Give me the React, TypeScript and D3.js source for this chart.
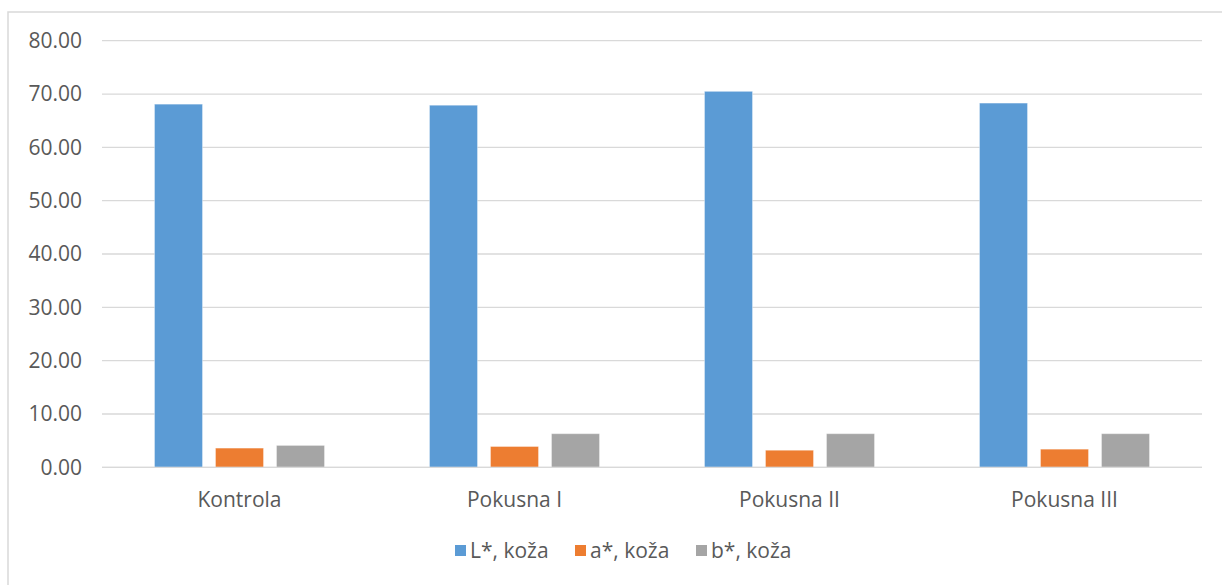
import React from "react";
import * as d3 from "d3";

const categories = ["Kontrola", "Pokusna I", "Pokusna II", "Pokusna III"];
const seriesNames = ["L*, koža", "a*, koža", "b*, koža"];
const seriesL = [68.1, 67.9, 70.5, 68.3];
const seriesA = [3.6, 3.9, 3.2, 3.4];
const seriesB = [4.1, 6.3, 6.3, 6.3];
const yTicks = [0, 10, 20, 30, 40, 50, 60, 70, 80];
const colors = ["#5B9BD5", "#ED7D31", "#A5A5A5"];

const W = 1222;
const H = 585;
const FONT = "'Open Sans', 'Noto Sans', sans-serif";

export default function App() {
  const series = [seriesL, seriesA, seriesB];
  const x = d3.scaleBand().domain(categories).range([102, 1202]).paddingInner(0).paddingOuter(0);
  const y = d3.scaleLinear().domain([0, 80]).range([467.3, 40.7]);
  const barW = 48;
  const gap = 13;
  const groupW = barW * 3 + gap * 2;
  const inner = d3
    .scaleBand()
    .domain(seriesNames)
    .range([0, groupW])
    .paddingInner(gap / (barW + gap))
    .paddingOuter(0);

  const legendItems = [
    { name: seriesNames[0], x: 455 },
    { name: seriesNames[1], x: 575 },
    { name: seriesNames[2], x: 696 },
  ];

  return (
    <svg
      width={W}
      height={H}
      style={{ position: "absolute", left: 0, top: 0, background: "#fff" }}
      fontFamily={FONT}
    >
      <rect x={8} y={12} width={1300} height={700} fill="#fff" stroke="#D9D9D9" strokeWidth={1.5} />
      {yTicks.map((t) => (
        <g key={t}>
          <line x1={102} x2={1202} y1={y(t)} y2={y(t)} stroke="#D9D9D9" strokeWidth={1.3} />
          <text x={82} y={y(t)} dy="0.35em" textAnchor="end" fontSize={21} fill="#595959">
            {d3.format(".2f")(t)}
          </text>
        </g>
      ))}
      {categories.map((c, i) => {
        const gx = (x(c) as number) + x.bandwidth() / 2 - groupW / 2;
        return (
          <g key={c}>
            {series.map((s, j) => (
              <rect
                key={j}
                x={gx + (inner(seriesNames[j]) as number)}
                y={y(s[i])}
                width={inner.bandwidth()}
                height={y(0) - y(s[i])}
                fill={colors[j]}
                stroke="#ffffff"
                strokeOpacity={0.35}
                strokeWidth={1}
              />
            ))}
            <text
              x={(x(c) as number) + x.bandwidth() / 2}
              y={500}
              dy="0.35em"
              textAnchor="middle"
              fontSize={21}
              fill="#595959"
            >
              {c}
            </text>
          </g>
        );
      })}
      <line x1={102} x2={1202} y1={y(0)} y2={y(0)} stroke="#D9D9D9" strokeWidth={1.3} />
      {legendItems.map((it, j) => (
        <g key={it.name}>
          <rect x={it.x} y={545} width={11} height={11} fill={colors[j]} />
          <text x={it.x + 15} y={551} dy="0.35em" fontSize={21} fill="#595959">
            {it.name}
          </text>
        </g>
      ))}
    </svg>
  );
}
